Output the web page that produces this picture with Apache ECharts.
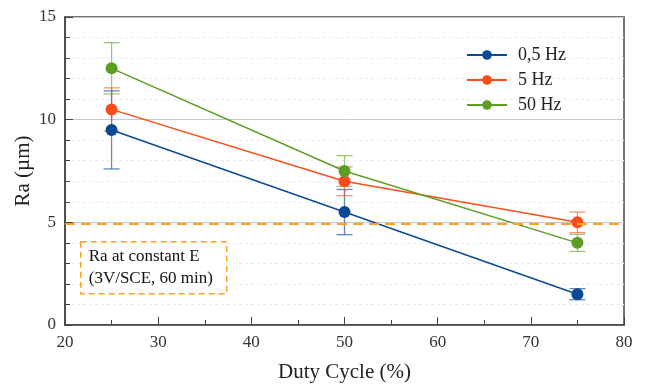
<!DOCTYPE html>
<html><head><meta charset="utf-8">
<script src="https://cdn.jsdelivr.net/npm/echarts@6/dist/echarts.min.js"></script>
<style>html,body{margin:0;padding:0;background:#fff}#c{width:646px;height:385px}</style>
</head><body><div id="c"></div>
<script>
const dutyCycle = [25, 50, 75];
const seriesNames = ['0,5 Hz', '5 Hz', '50 Hz'];
const raHalfHz = [9.5, 5.5, 1.5];
const errHalfHz = [1.9, 1.1, 0.27];
const ra5Hz = [10.5, 7.0, 5.0];
const err5Hz = [1.05, 0.7, 0.5];
const ra50Hz = [12.5, 7.5, 4.0];
const err50Hz = [1.25, 0.75, 0.42];
const constantERa = 4.95;
const colors = ['#0b4a92', '#fb4c1a', '#5c9e24'];
const errColors = ['rgba(11,74,146,0.65)', 'rgba(251,76,26,0.6)', 'rgba(92,158,36,0.6)'];
const values = [raHalfHz, ra5Hz, ra50Hz];
const errs = [errHalfHz, err5Hz, err50Hz];
const FONT = '"Liberation Serif", "DejaVu Serif", serif';

const chart = echarts.init(document.getElementById('c'));
const series = [];
values.forEach((vals, i) => {
  series.push({
    name: seriesNames[i], type: 'line', z: 3,
    data: dutyCycle.map((x, k) => [x, vals[k]]),
    symbol: 'circle', symbolSize: 12,
    lineStyle: { color: colors[i], width: 1.5 },
    itemStyle: { color: colors[i] },
    markLine: i === 0 ? {
      silent: true, symbol: 'none', label: { show: false },
      lineStyle: { color: '#ffa21f', width: 2, type: [10, 6] },
      data: [{ yAxis: constantERa }]
    } : undefined
  });
  series.push({
    type: 'custom', z: 2,
    data: dutyCycle.map((x, k) => [x, vals[k] - errs[i][k], vals[k] + errs[i][k]]),
    renderItem: function (params, api) {
      const lo = api.coord([api.value(0), api.value(1)]);
      const hi = api.coord([api.value(0), api.value(2)]);
      const w = 8;
      const st = { stroke: errColors[i], lineWidth: 1.3 };
      return { type: 'group', children: [
        { type: 'line', shape: { x1: lo[0], y1: lo[1], x2: hi[0], y2: hi[1] }, style: st },
        { type: 'line', shape: { x1: lo[0] - w, y1: lo[1], x2: lo[0] + w, y2: lo[1] }, style: st },
        { type: 'line', shape: { x1: hi[0] - w, y1: hi[1], x2: hi[0] + w, y2: hi[1] }, style: st }
      ]};
    }
  });
});

chart.setOption({
  animation: false,
  textStyle: { fontFamily: FONT },
  grid: { left: 65, right: 22, top: 17, bottom: 60, outerBoundsMode: 'none', containLabel: false,
    show: true, borderColor: '#444', borderWidth: 1.5, backgroundColor: 'transparent' },
  legend: {
    data: seriesNames, left: 461, top: 41, orient: 'vertical', itemGap: 7,
    itemWidth: 40, itemHeight: 12,
    textStyle: { fontFamily: FONT, fontSize: 18, color: '#222', padding: [0, 0, 0, 6] }
  },
  xAxis: {
    type: 'value', min: 20, max: 80, interval: 10,
    name: 'Duty Cycle (%)', nameLocation: 'middle', nameGap: 37, nameMoveOverlap: false,
    nameTextStyle: { fontFamily: FONT, fontSize: 21, color: '#222' },
    axisLine: { lineStyle: { color: '#444', width: 1.5 } },
    axisTick: { inside: true, length: 8, lineStyle: { color: '#444' } },
    minorTick: { show: true, splitNumber: 2, length: 5, lineStyle: { color: '#444' } },
    axisLabel: { fontFamily: FONT, fontSize: 17, color: '#333', margin: 9 },
    splitLine: { show: false }
  },
  yAxis: {
    type: 'value', min: 0, max: 15, interval: 5,
    name: 'Ra (\u00b5m)', nameLocation: 'middle', nameGap: 31, nameMoveOverlap: false,
    nameTextStyle: { fontFamily: FONT, fontSize: 21, color: '#222' },
    axisLine: { lineStyle: { color: '#444', width: 1.5 } },
    axisTick: { inside: true, length: 8, lineStyle: { color: '#444' } },
    minorTick: { show: true, splitNumber: 5, length: 5, lineStyle: { color: '#444' } },
    axisLabel: { fontFamily: FONT, fontSize: 17, color: '#333', margin: 9 },
    splitLine: { show: true, lineStyle: { color: '#c8c8c8', width: 1 } },
    minorSplitLine: { show: true, lineStyle: { color: '#ececec', type: [3, 3] } }
  },
  graphic: [{
    type: 'group', left: 80, top: 241, z: 100,
    children: [
      { type: 'rect', z: 100, shape: { x: 0, y: 0, width: 146, height: 52 },
        style: { fill: '#fff', stroke: '#ffa21f', lineWidth: 1.5, lineDash: [6, 4] } },
      { type: 'text', z: 101, x: 8, y: 4,
        style: { text: 'Ra at constant E\n(3V/SCE, 60 min)', font: '17px ' + FONT, fill: '#111', lineHeight: 22 } }
    ]
  }],
  series: series
});
</script></body></html>
